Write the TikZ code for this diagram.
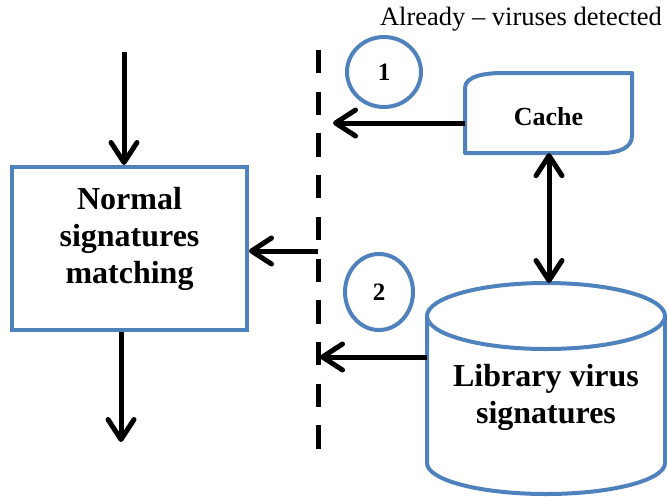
\documentclass[tikz,border=0pt]{standalone}
\usepackage{fontspec}
\setmainfont{Liberation Serif}
\usetikzlibrary{arrows.meta,calc,shapes.geometric}
\definecolor{boxblue}{RGB}{79,129,189}
\tikzset{
  barb/.tip={Straight Barb[length=20pt,width=26pt,line cap=round,line join=round]},
  conn/.style={line width=5pt, -barb},
  blueline/.style={draw=boxblue, line width=4pt},
  bigtxt/.style={font=\fontsize{32}{37}\selectfont\bfseries, align=center},
  numcirc/.style={ellipse, blueline, inner sep=0pt, font=\fontsize{25}{30}\selectfont\bfseries},
}
\begin{document}
\begin{tikzpicture}[x=1pt,y=-1pt]
\useasboundingbox (0,0) rectangle (667,496);
% top label
\node[font=\fontsize{26.5}{30}\selectfont, anchor=center] (lbl) at (521,19) {Already -- viruses detected};
% dashed separator
\coordinate (dtop) at (318,50);
\coordinate (dbot) at (318,452);
\draw[line width=5pt, dash pattern=on 23.3pt off 18.4pt] (dtop) -- (dbot);
% numbered circles
\node[numcirc, minimum width=74pt, minimum height=70pt] (c1) at (384,72) {1};
\node[numcirc, minimum width=68pt, minimum height=76pt] (c2) at (379,292) {2};
% cache
\node[minimum width=167pt, minimum height=80pt, inner sep=0pt] (cache) at (548.5,113) {};
\node[font=\fontsize{26}{30}\selectfont\bfseries] (cachetxt) at (548.5,117) {Cache};
\draw[blueline, line join=round] (465,153) -- (465,88) .. controls (465,76) and (485,73) .. (503,73) -- (632,73) -- (632,136) .. controls (632,148) and (618,153) .. (603,153) -- cycle;
% cylinder
\draw[blueline] (546,316) ellipse[x radius=119, y radius=33];
\draw[blueline] (427,316) -- (427,463) arc[start angle=180, end angle=0, x radius=119, y radius=31] -- (665,316);
\node[bigtxt] (lib) at (546,397) {Library virus\\signatures};
\coordinate (cyltop) at (549,283);
\coordinate (cylL) at (427,357);
% normal signatures matching box
\node[draw=boxblue, line width=4pt, minimum width=235pt, minimum height=163pt, inner sep=0pt] (nsm) at (129.5,248.5) {};
\node[bigtxt] (nsmtxt) at (129.5,239) {Normal\\signatures\\matching};
% connectors
\coordinate (c1end) at (333,123);
\draw[conn] ($(cache.west)+(0,10)$) -- (c1end);
\draw[line width=5pt, barb-barb] (cache.south -| cyltop) -- (cyltop);
\coordinate (d3) at (320,357);
\draw[conn] (cylL) -- (d3);
\coordinate (d2) at (318,251);
\draw[conn] (d2) -- (nsm.east |- d2);
\coordinate (intop) at (124,52);
\draw[conn] (intop) -- (intop |- nsm.north);
\coordinate (outbot) at (121,442);
\draw[conn] (nsm.south -| outbot) -- (outbot);
\end{tikzpicture}
\end{document}
